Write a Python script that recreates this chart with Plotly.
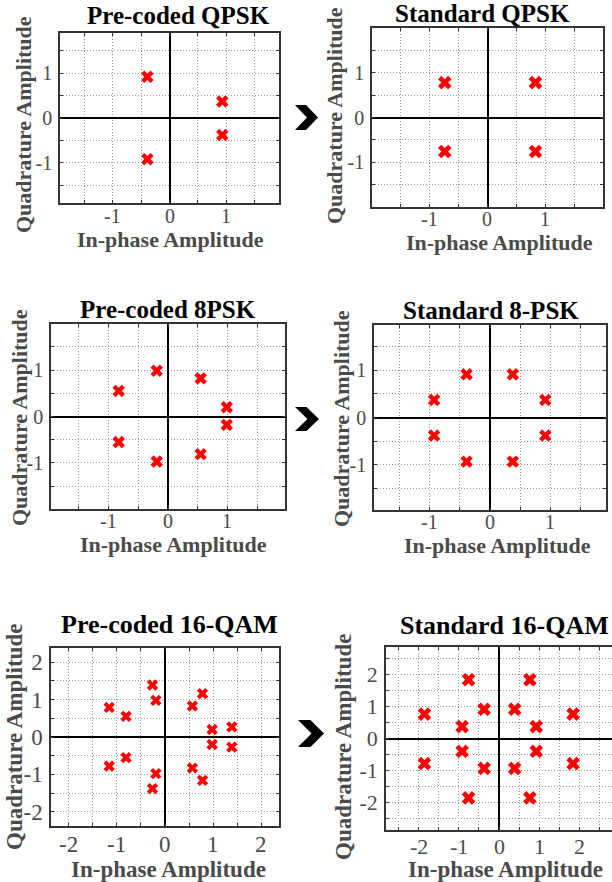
import numpy as np
import plotly.graph_objects as go

# ---- constellation points (in-phase / quadrature) ----
qpsk_pre_i = [-0.39, 0.93, 0.93, -0.39]
qpsk_pre_q = [0.92, 0.37, -0.38, -0.92]

qpsk_std_i = [-0.74, 0.83, -0.74, 0.83]
qpsk_std_q = [0.78, 0.78, -0.76, -0.76]

psk8_pre_i = [-0.19, 0.55, 0.99, 0.99, 0.55, -0.19, -0.83, -0.83]
psk8_pre_q = [0.985, 0.82, 0.20, -0.18, -0.81, -0.97, 0.55, -0.55]

psk8_std_i = [-0.93, -0.39, 0.38, 0.92, 0.92, 0.38, -0.39, -0.93]
psk8_std_q = [0.37, 0.91, 0.91, 0.37, -0.38, -0.93, -0.93, -0.38]

qam16_pre_i = [-1.16, -0.81, -0.26, -0.19, 0.57, 0.78, 0.98, 1.39,
               -1.16, -0.81, -0.26, -0.19, 0.57, 0.78, 0.98, 1.39]
qam16_pre_q = [0.79, 0.55, 1.39, 0.98, 0.83, 1.16, 0.20, 0.27,
               -0.78, -0.55, -1.38, -0.98, -0.83, -1.16, -0.20, -0.27]

qam16_std_i = [-1.86, -0.76, -0.37, -0.92, 0.39, 0.77, 0.93, 1.85,
               -1.86, -0.76, -0.37, -0.92, 0.39, 0.77, 0.93, 1.85]
qam16_std_q = [0.76, 1.83, 0.91, 0.37, 0.91, 1.83, 0.37, 0.76,
               -0.78, -1.85, -0.93, -0.40, -0.93, -1.85, -0.40, -0.78]

titles = ["Pre-coded QPSK", "Standard QPSK", "Pre-coded 8PSK",
          "Standard 8-PSK", "Pre-coded 16-QAM", "Standard 16-QAM"]
tick_labels_small = [-1, 0, 1]
tick_labels_large = [-2, -1, 0, 1, 2]

W, H = 612, 882
SERIF = "Liberation Serif"
TXT_GREY = "#4a4a4a"


def px(x):
    return x / W


def py(y):
    return 1 - y / H


# panel geometry in pixels: (left, right, top, bottom), axis ranges, label set, font sizes
panels = [
    dict(i=qpsk_pre_i, q=qpsk_pre_q, box=(60, 279, 33, 203), xr=1.93, yr=1.90,
         labels=tick_labels_small, tfs=20, afs=22, hfs=25, msize=11, xshift=-13,
         title_xy=(178, 16), xt_xy=(170, 239), yt_xy=(24, 125)),
    dict(i=qpsk_std_i, q=qpsk_std_q, box=(372, 603, 28, 207), xr=2.0, yr=2.0,
         labels=tick_labels_small, tfs=20, afs=22, hfs=25, msize=12, xshift=-12,
         title_xy=(482, 14), xt_xy=(499, 242), yt_xy=(335, 116)),
    dict(i=psk8_pre_i, q=psk8_pre_q, box=(51, 285, 324, 509), xr=1.97, yr=1.99,
         labels=tick_labels_small, tfs=20, afs=22, hfs=25, msize=11, xshift=-12,
         title_xy=(168, 309), xt_xy=(173, 544), yt_xy=(20, 418)),
    dict(i=psk8_std_i, q=psk8_std_q, box=(374, 606, 325, 510), xr=1.93, yr=1.95,
         labels=tick_labels_small, tfs=20, afs=22, hfs=25, msize=11, xshift=-12,
         title_xy=(491, 310), xt_xy=(497, 545), yt_xy=(341, 419)),
    dict(i=qam16_pre_i, q=qam16_pre_q, box=(51, 279, 648, 826), xr=2.37, yr=2.38,
         labels=tick_labels_large, tfs=23, afs=23, hfs=26, msize=10, xshift=-18,
         title_xy=(169, 624), xt_xy=(168, 869), yt_xy=(14, 737)),
    dict(i=qam16_std_i, q=qam16_std_q, box=(386, 612, 647, 830), xr=2.82, yr=2.85,
         labels=tick_labels_large, tfs=22, afs=23, hfs=26, msize=12, xshift=-16,
         title_xy=(504, 625), xt_xy=(506, 869), yt_xy=(343, 747)),
]

fig = go.Figure()
annotations = []
shapes = []

for k, p in enumerate(panels):
    n = "" if k == 0 else str(k + 1)
    left, right, top, bottom = p["box"]

    fig.add_trace(go.Scatter(
        x=p["i"], y=p["q"], mode="markers",
        marker=dict(symbol="x", size=p["msize"], color="#ff0000",
                    line=dict(width=0)),
        xaxis="x" + n, yaxis="y" + n, showlegend=False,
    ))

    def axis(rng, lo, hi, anchor, mirror_line=True, labels=True):
        grid = [v for v in np.arange(-3.0, 3.01, 0.5) if -rng < v < rng]
        text = [str(int(v)) if (float(v).is_integer() and int(v) in p["labels"]) else ""
                for v in grid]
        return dict(
            domain=[lo, hi], range=[-rng, rng], anchor=anchor,
            tickmode="array", tickvals=grid, ticktext=text, showticklabels=labels,
            ticks="inside", ticklen=3, tickcolor="#333", tickwidth=1,
            showgrid=True, gridcolor="#9a9a9a", griddash="1px,2px", gridwidth=1,
            zeroline=True, zerolinecolor="#000000", zerolinewidth=1.5,
            showline=True, linecolor="#333333", linewidth=1.5,
            mirror="allticks" if mirror_line else False,
            tickfont=dict(family=SERIF, size=p["tfs"], color=TXT_GREY),
            fixedrange=True,
        )

    xa = axis(p["xr"], px(left), px(right), "y" + n, labels=False)
    ya = axis(p["yr"], py(bottom), py(top), "x" + n, mirror_line=(k != 5))
    ya["ticklabelstandoff"] = 2
    fig.update_layout({"xaxis" + n: xa, "yaxis" + n: ya})

    # in-phase tick labels, placed on the x axis just under the frame
    for v in p["labels"]:
        annotations.append(dict(
            text=str(v), x=v, y=-p["yr"], xref="x" + n, yref="y" + n,
            showarrow=False, xanchor="center", yanchor="middle", yshift=p["xshift"],
            borderpad=0,
            font=dict(family=SERIF, size=p["tfs"], color=TXT_GREY)))

    tx, ty = p["title_xy"]
    annotations.append(dict(
        text="<b>%s</b>" % titles[k], x=px(tx), y=py(ty), xref="paper", yref="paper",
        showarrow=False, xanchor="center", yanchor="middle", borderpad=0,
        font=dict(family=SERIF, size=p["hfs"], color="#000000")))
    ax_, ay_ = p["xt_xy"]
    annotations.append(dict(
        text="<b>In-phase Amplitude</b>", x=px(ax_), y=py(ay_), xref="paper", yref="paper",
        showarrow=False, xanchor="center", yanchor="middle", borderpad=0,
        font=dict(family=SERIF, size=p["afs"], color=TXT_GREY)))
    bx, by = p["yt_xy"]
    annotations.append(dict(
        text="<b>Quadrature Amplitude</b>", x=px(bx), y=py(by), xref="paper", yref="paper",
        showarrow=False, xanchor="center", yanchor="middle", textangle=-90, borderpad=0,
        font=dict(family=SERIF, size=p["afs"], color=TXT_GREY)))

# chevron arrows between the pre-coded and standard panels
arrow_boxes = [(295, 105, 318, 130), (295, 407, 319, 431), (298, 720, 324, 747)]
for (x0, y0, x1, y1) in arrow_boxes:
    w, h = x1 - x0, y1 - y0
    pts = [(x0, y0), (x0 + 0.48 * w, y0), (x1, y0 + 0.5 * h),
           (x0 + 0.48 * w, y1), (x0, y1), (x0 + 0.52 * w, y0 + 0.5 * h)]
    path = "M " + " L ".join("%.5f,%.5f" % (px(a), py(b)) for a, b in pts) + " Z"
    shapes.append(dict(type="path", path=path, xref="paper", yref="paper",
                       fillcolor="#000000", line=dict(width=0)))

fig.update_layout(
    width=W, height=H, margin=dict(l=0, r=0, t=0, b=0),
    paper_bgcolor="#ffffff", plot_bgcolor="#ffffff",
    annotations=annotations, shapes=shapes, showlegend=False,
)

fig.write_html("out.html")
